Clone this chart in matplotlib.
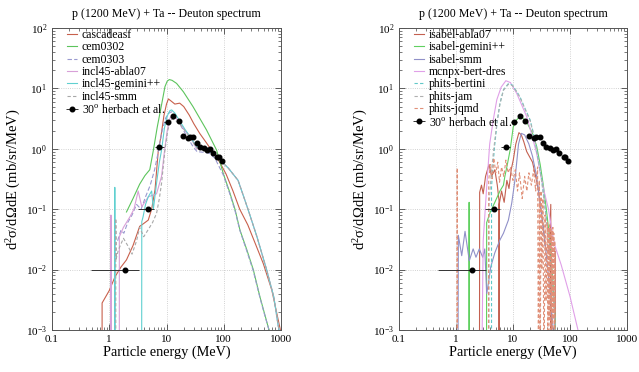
import matplotlib
matplotlib.use("Agg")
import matplotlib.pyplot as plt
from matplotlib.ticker import FixedLocator, FixedFormatter, LogLocator, LogFormatterMathtext, NullFormatter

plt.rcParams['font.family'] = ['Liberation Serif', 'DejaVu Serif']
plt.rcParams['mathtext.fontset'] = 'custom'
plt.rcParams['mathtext.rm'] = 'Liberation Serif'
plt.rcParams['mathtext.it'] = 'Liberation Serif:italic'

title = "p (1200 MeV) + Ta -- Deuton spectrum"
LOW = 1e-4  # drops below the plotted range

# ---- experimental data (same on both panels) ----
herbach_E = [1.9, 4.7, 7.5, 10.5, 13.1, 16.4, 19.3, 23.3, 25.6, 29.2, 33.5, 38.7, 45, 51, 57, 65, 77, 83, 93]
herbach_v = [0.01, 0.1, 1.06, 2.75, 3.43, 2.84, 1.66, 1.51, 1.57, 1.54, 1.25, 1.06, 1.05, 0.96, 1.01, 0.84, 0.72, 0.72, 0.63]
herbach_lo = [1.42, 1.5, 1.3, 1.3, 0.5, 0.5, 0.5, 0.5, 0.5, 0.5, 0.5, 0.5, 0.5, 0.5, 0.5, 0.5, 0.5, 0.5, 0.5]
herbach_hi = [1.4, 1.3, 1.5, 1.1, 0.5, 0.5, 0.5, 0.5, 0.5, 0.5, 0.5, 0.5, 0.5, 0.5, 0.5, 0.5, 0.5, 0.5, 0.5]

# ---- left panel models ----
cascadeasf_E = [0.75, 0.75, 1.0, 1.26, 1.6, 2.0, 2.6, 3.4, 4.0, 4.8, 5.5, 6.3, 7.2, 8.0, 9.0, 10.0, 10.8, 12.5, 14, 17, 20, 25, 30, 38, 50, 66, 85, 110, 145, 190, 263, 350, 490, 690, 955, 1000]
cascadeasf_v = [LOW, 0.0028, 0.0045, 0.0076, 0.011, 0.0145, 0.025, 0.052, 0.058, 0.066, 0.10, 0.21, 0.95, 1.6, 3.5, 5.5, 6.7, 6.0, 5.5, 5.7, 5.0, 3.6, 2.6, 1.8, 1.25, 0.85, 0.6, 0.38, 0.2, 0.1, 0.055, 0.028, 0.0126, 0.0046, 0.0011, 0.0009]

cem0302_E = [2.0, 2.6, 3.4, 4.2, 5.1, 5.9, 6.9, 8.3, 9.4, 10.3, 11.2, 12.5, 15, 19.7, 29, 50, 75, 98, 125, 157, 192, 250, 328, 430, 530, 600, 650]
cem0302_v = [0.09, 0.15, 0.26, 0.36, 0.45, 0.95, 2.3, 5.7, 10.7, 13.2, 14, 13.6, 12.1, 8.8, 5.0, 2.05, 0.95, 0.39, 0.2, 0.1, 0.045, 0.022, 0.01, 0.0035, 0.0017, 0.0011, 0.0009]

cem0303_E = [1.4, 1.6, 1.8, 2.1, 2.5, 3.0, 3.6, 4.3, 5.2, 6.2, 7.2, 8.4, 9.6, 11, 12.3, 14, 17, 22, 28, 34, 42, 55, 70, 98, 125, 157, 192, 250, 328, 430, 500, 600, 650]
cem0303_v = [0.03, 0.045, 0.04, 0.06, 0.08, 0.12, 0.1, 0.16, 0.25, 0.45, 0.9, 2.0, 3.2, 3.9, 4.1, 3.6, 2.6, 1.7, 1.15, 0.9, 0.88, 0.85, 0.7, 0.37, 0.19, 0.095, 0.044, 0.021, 0.0095, 0.0034, 0.002, 0.0011, 0.0008]

incl_abla_E = [1.07, 1.07, 1.08, 1.5, 1.5, 1.77, 2.3, 2.7, 3.2, 3.7, 4.8, 6.7, 8.2, 9.2, 10.3, 11.5, 12.5, 14, 17, 21, 25.7, 33.6, 44, 57, 70, 86, 120, 178, 265, 380, 560, 750, 890, 950]
incl_abla_v = [LOW, 0.08, LOW, LOW, 0.035, 0.05, 0.075, 0.1, 0.2, 0.11, 0.16, 0.18, 0.35, 0.9, 2.0, 3.2, 3.6, 3.4, 2.7, 2.0, 1.6, 1.0, 0.98, 0.9, 0.78, 0.65, 0.48, 0.3, 0.1, 0.035, 0.01, 0.0035, 0.0012, 0.0009]

incl_gem_E = [1.24, 1.25, 1.27, 3.68, 3.7, 3.9, 4.3, 4.8, 5.5, 5.9, 6.7, 7.5, 8.2, 9.2, 10.3, 11.5, 12.3, 14, 17, 21, 25.7, 33.6, 44, 57, 70, 86, 120, 178, 265, 380, 560, 750, 890, 950]
incl_gem_v = [LOW, 0.23, LOW, LOW, 0.062, 0.075, 0.12, 0.16, 0.2, 0.1, 0.27, 0.6, 0.95, 2.2, 3.5, 4.3, 4.4, 3.9, 2.9, 2.1, 1.6, 1.08, 0.98, 0.9, 0.78, 0.65, 0.48, 0.3, 0.1, 0.035, 0.01, 0.0035, 0.0012, 0.0009]

incl_smm_E = [1.3, 1.3, 1.32, 1.44, 1.77, 2.1, 2.5, 3.0, 3.4, 4.0, 4.8, 5.7, 6.7, 7.5, 8.2, 9.4, 10.5, 11.5, 12.5, 14, 17, 21, 25.7, 33.6, 44, 57, 70, 86, 120, 178, 265, 380, 560, 750, 890, 950]
incl_smm_v = [LOW, 0.07, 0.015, 0.021, 0.033, 0.025, 0.018, 0.03, 0.05, 0.035, 0.046, 0.06, 0.085, 0.15, 0.27, 0.95, 2.0, 2.8, 3.1, 3.0, 2.6, 2.0, 1.55, 1.05, 0.96, 0.9, 0.78, 0.65, 0.48, 0.3, 0.1, 0.035, 0.01, 0.0035, 0.0012, 0.0009]

# ---- right panel models ----
isabel_abla_E = [2.58, 2.6, 2.8, 3.0, 3.3, 3.8, 4.2, 4.8, 5.3, 5.68, 5.7, 5.72, 6.3, 7.0, 7.8, 8.5, 9.3, 10.1, 11.2, 12.7, 14, 15.5, 17.4, 22, 27, 31, 34, 36.5, 40, 44, 46, 46.1, 46.2, 48, 55, 55.1]
isabel_abla_v = [LOW, 0.19, 0.25, 0.18, 0.35, 0.55, 0.35, 0.45, 0.25, 0.14, LOW, 0.12, 0.2, 0.13, 0.3, 0.22, 0.45, 0.65, 1.2, 1.85, 1.7, 1.3, 0.9, 0.6, 0.25, 0.1, 0.05, 0.025, 0.02, 0.022, 0.12, LOW, 0.02, 0.02, 0.02, LOW]

isabel_gem_E = [1.69, 1.7, 1.71, 3.43, 3.45, 4.0, 4.8, 5.9, 6.8, 7.2, 7.8, 8.9, 10.1, 11.5, 13.2, 15, 18, 22, 26, 30, 34, 38, 43, 47, 51, 55, 56]
isabel_gem_v = [LOW, 0.13, LOW, LOW, 0.06, 0.09, 0.13, 0.2, 0.25, 0.35, 0.5, 0.95, 2.3, 3.0, 3.4, 3.2, 2.6, 1.8, 1.1, 0.55, 0.25, 0.11, 0.04, 0.015, 0.005, 0.0013, LOW]

isabel_smm_E = [1.08, 1.1, 1.26, 1.44, 1.71, 2.0, 2.24, 2.56, 2.94, 3.2, 3.45, 3.7, 4.06, 4.8, 5.9, 6.8, 8.3, 9.5, 10.8, 12.5, 14, 16, 19, 22, 26, 30, 35, 40, 45, 50, 52]
isabel_smm_v = [LOW, 0.037, 0.017, 0.043, 0.014, 0.022, 0.016, 0.022, 0.016, 0.022, 0.004, 0.0059, 0.011, 0.019, 0.031, 0.04, 0.066, 0.126, 0.3, 1.2, 1.8, 1.7, 1.2, 0.75, 0.35, 0.12, 0.04, 0.012, 0.004, 0.0012, LOW]

mcnpx_E = [2.8, 3.0, 3.45, 3.9, 4.5, 5.2, 6.2, 7.5, 9.0, 11.6, 14, 17.4, 21, 26, 30, 35, 42, 50, 55, 70, 100, 138, 150]
mcnpx_v = [LOW, 0.03, 0.23, 1.2, 3.0, 6.5, 10.5, 13.4, 12.5, 8.3, 5.5, 3.4, 1.8, 0.84, 0.4, 0.2, 0.1, 0.035, 0.024, 0.012, 0.0036, 0.001, 0.0007]

phits_bert_E = [4.2, 4.2, 4.5, 4.8, 5.3, 5.9, 6.8, 8.3, 9.8, 11.5, 13.2, 16, 20, 24, 28, 32, 37, 42, 47, 52, 55, 56]
phits_bert_v = [LOW, 0.23, 0.6, 1.2, 2.9, 5.7, 9.5, 12.0, 11.3, 9.0, 7.3, 4.8, 3.0, 1.5, 0.65, 0.3, 0.1, 0.035, 0.01, 0.003, 0.0012, LOW]

phits_jam_E = [3.8, 3.8, 4.2, 4.6, 5.2, 5.9, 6.8, 8.3, 9.8, 11.5, 13.2, 16, 20, 24, 28, 32, 37, 42, 47, 52, 55, 56]
phits_jam_v = [LOW, 0.12, 0.45, 1.0, 2.6, 5.5, 9.3, 11.7, 11.1, 8.9, 7.2, 4.7, 2.9, 1.45, 0.62, 0.28, 0.09, 0.03, 0.009, 0.0028, 0.0011, LOW]

phits_jqmd_E = [1.04, 1.05, 1.06, 3.7, 3.75, 4.0, 4.3, 4.6, 5.0, 5.4, 5.8, 6.3, 6.9, 7.5, 8.2, 9.0, 10, 11, 12, 13, 14.5, 16, 17.5, 19, 21, 23, 25, 27, 28, 29, 30, 31, 32, 33.5, 35, 36.5, 38,
                40, 41, 42, 43, 44, 45, 46, 47, 48, 49, 50, 51, 52, 53, 54, 55]
phits_jqmd_v = [LOW, 0.48, LOW, LOW, 0.3, 0.55, 0.32, 0.7, 0.4, 0.6, 0.28, 0.5, 0.35, 0.65, 0.4, 0.5, 0.3, 0.45, 0.2, 0.4, 0.15, 0.35, 0.2, 0.4, 0.25, 0.45, 0.2, 0.5, LOW, 0.3, LOW, 0.2, 0.01, 0.15, LOW, 0.08, 0.003,
                0.06, 0.001, 0.05, 0.0015, 0.055, 0.001, 0.05, 0.002, 0.045, 0.001, 0.05, 0.0015, 0.04, 0.001, 0.03, LOW]

left_models = [
    ("cascadeasf", cascadeasf_E, cascadeasf_v, '#c8604c', '-'),
    ("cem0302", cem0302_E, cem0302_v, '#5cc45c', '-'),
    ("cem0303", cem0303_E, cem0303_v, '#9a9ad0', (0, (4, 2))),
    ("incl45-abla07", incl_abla_E, incl_abla_v, '#d8a0d8', '-'),
    ("incl45-gemini++", incl_gem_E, incl_gem_v, '#60d0d0', '-'),
    ("incl45-smm", incl_smm_E, incl_smm_v, '#a8a8a8', (0, (3, 2))),
]
right_models = [
    ("isabel-abla07", isabel_abla_E, isabel_abla_v, '#c46050', '-'),
    ("isabel-gemini++", isabel_gem_E, isabel_gem_v, '#60d060', '-'),
    ("isabel-smm", isabel_smm_E, isabel_smm_v, '#9090c8', '-'),
    ("mcnpx-bert-dres", mcnpx_E, mcnpx_v, '#e0a0e8', '-'),
    ("phits-bertini", phits_bert_E, phits_bert_v, '#60c8c8', (0, (3, 2))),
    ("phits-jam", phits_jam_E, phits_jam_v, '#b0b0b0', (0, (3, 2))),
    ("phits-jqmd", phits_jqmd_E, phits_jqmd_v, '#e09078', (0, (3, 2))),
]

fig = plt.figure(figsize=(6.39, 3.72), dpi=100)
ax_l = fig.add_axes([52 / 639, 42 / 372, 229 / 639, 302 / 372])
ax_r = fig.add_axes([399 / 639, 42 / 372, 228 / 639, 302 / 372])

for ax, models in [(ax_l, left_models), (ax_r, right_models)]:
    for name, E, v, col, ls in models:
        ax.plot(E, v, color=col, ls=ls, lw=0.8, label=name)
    ax.errorbar(herbach_E, herbach_v, xerr=[herbach_lo, herbach_hi], fmt='o', color='black',
                ms=3.3, lw=0.7, ecolor='#333333', capsize=0, label=r"30$^{\rm o}$ herbach et al.")

    ax.set_xscale('log')
    ax.set_yscale('log')
    ax.set_xlim(0.1, 1000)
    ax.set_ylim(1e-3, 1e2)
    ax.xaxis.set_major_locator(FixedLocator([0.1, 1, 10, 100, 1000]))
    ax.xaxis.set_major_formatter(FixedFormatter(["0.1", "1", "10", "100", "1000"]))
    ax.xaxis.set_minor_locator(LogLocator(base=10, subs=range(2, 10)))
    ax.xaxis.set_minor_formatter(NullFormatter())
    ax.yaxis.set_major_locator(LogLocator(base=10, numticks=10))
    ax.yaxis.set_major_formatter(LogFormatterMathtext())
    ax.yaxis.set_minor_locator(LogLocator(base=10, subs=range(2, 10), numticks=10))
    ax.yaxis.set_minor_formatter(NullFormatter())
    ax.tick_params(which='both', direction='in', top=True, right=True, colors='#444444', labelcolor='black', labelsize=8)
    ax.tick_params(which='major', length=4, width=0.6)
    ax.tick_params(which='minor', length=2, width=0.5)
    ax.grid(which='major', color='#c4c4c4', ls=':', lw=0.6)
    for s in ax.spines.values():
        s.set_color('#555555')
        s.set_linewidth(0.7)

    ax.set_title(title, fontsize=8.6, pad=8)
    ax.set_xlabel("Particle energy (MeV)", fontsize=10.3, labelpad=1)
    ax.set_ylabel(r"d$^2$σ/dΩdE (mb/sr/MeV)", fontsize=10.5, labelpad=2)
    ax.legend(loc='upper left', bbox_to_anchor=(0.035, 1.02), frameon=False, fontsize=8.5,
              handlelength=0.8, handletextpad=0.45, labelspacing=0.03, borderaxespad=0.2)

fig.savefig("out.png", dpi=100)
